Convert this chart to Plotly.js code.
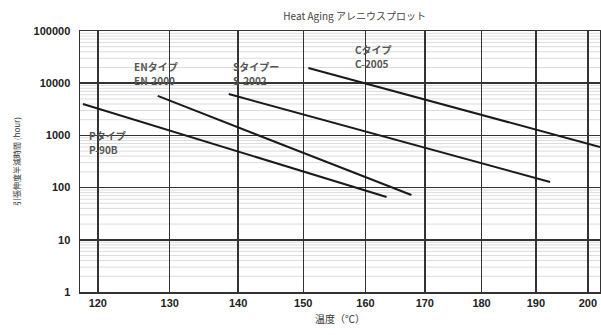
<!DOCTYPE html>
<html>
<head>
<meta charset="utf-8">
<script src="https://cdn.plot.ly/plotly-3.0.1.min.js"></script>
<style>html,body{margin:0;padding:0;background:#fff;}#chart{width:601px;height:335px;}</style>
</head>
<body>
<div id="chart"></div>
<script>
// Temperatures in °C, times in hours
const tickTemps = [120, 130, 140, 150, 160, 170, 180, 190, 200];
const yTicks = [1, 10, 100, 1000, 10000, 100000];

const pTemps = [118, 163.5];
const pHours = [4000, 66];
const enTemps = [128.3, 167.7];
const enHours = [5700, 72];
const sTemps = [138.6, 192.7];
const sHours = [6200, 128];
const cTemps = [150.8, 202.4];
const cHours = [19500, 600];

const seriesNames = ['P-90B', 'EN-2000', 'S-2002', 'C-2005'];
const typeLabels = ['Pタイプ', 'ENタイプ', 'Sタイプー', 'Cタイプ'];

// Arrhenius transform: 1000 / absolute temperature
const inv = t => 1000 / (t + 273.15);
const xMin = 117.6, xMax = 202.4;

const font = '"Liberation Sans", "Noto Sans CJK JP", Arial, sans-serif';
const jfont = '"Noto Sans CJK JP", "Liberation Sans", sans-serif';

const allT = [pTemps, enTemps, sTemps, cTemps];
const allH = [pHours, enHours, sHours, cHours];
const traces = allT.map((T, i) => ({
  x: T.map(inv), y: allH[i], type: 'scatter', mode: 'lines', name: seriesNames[i],
  line: {color: '#1a1a1a', width: 2}, hoverinfo: 'skip'
}));

// minor horizontal grid lines (2..9 per decade)
const minorShapes = [];
for (let d = 0; d < 5; d++) {
  for (let m = 2; m <= 9; m++) {
    minorShapes.push({type: 'line', xref: 'paper', x0: 0, x1: 1, yref: 'y', y0: m * Math.pow(10, d), y1: m * Math.pow(10, d),
      line: {color: '#dcdcdc', width: 1}, layer: 'below'});
  }
}

// label positions in pixels (left, top-line centre)
const labelPx = [[87, 135], [132, 66], [231, 66], [353, 50]];
const toPaperX = px => (px - 80) / 520;
const toPaperY = py => (292 - py) / 261;
const annotations = [];
labelPx.forEach((p, i) => {
  [typeLabels[i], seriesNames[i]].forEach((t, k) => {
    annotations.push({
      text: t, xref: 'paper', yref: 'paper', x: toPaperX(p[0]), y: toPaperY(p[1] + k * 14),
      xanchor: 'left', yanchor: 'middle', align: 'left', showarrow: false,
      font: {family: jfont, size: 10, color: '#555', weight: 'bold'}
    });
  });
});

const layout = {
  width: 601, height: 335,
  margin: {l: 80, r: 1, t: 31, b: 43},
  paper_bgcolor: '#fff', plot_bgcolor: '#fff',
  showlegend: false,
  title: {text: 'Heat Aging アレニウスプロット', x: 0.59, xanchor: 'center', y: 0.95, yanchor: 'middle',
    font: {family: jfont, size: 10, color: '#444'}},
  xaxis: {
    range: [inv(xMin), inv(xMax)],
    tickvals: tickTemps.map(inv), ticktext: tickTemps.map(String),
    showgrid: true, gridcolor: '#333', gridwidth: 1.5,
    showline: true, mirror: true, linecolor: '#333', linewidth: 1.5,
    zeroline: false, ticks: '', ticklen: 0,
    tickfont: {family: font, size: 11, color: '#222', weight: 'bold'},
    title: {text: '温度（℃）', font: {family: jfont, size: 10, color: '#333'}, standoff: 8}
  },
  yaxis: {
    type: 'log', range: [0, 5],
    tickvals: yTicks, ticktext: yTicks.map(String),
    showgrid: true, gridcolor: '#333', gridwidth: 1.5,
    showline: true, mirror: true, linecolor: '#333', linewidth: 1.5,
    zeroline: false, ticks: '', ticklen: 0, ticklabelstandoff: 6,
    tickfont: {family: font, size: 11, color: '#222', weight: 'bold'},
    title: {text: '引張伸度半減時間 (hour)', font: {family: jfont, size: 8, color: '#333'}, standoff: 12}
  },
  shapes: minorShapes,
  annotations: annotations
};

Plotly.newPlot('chart', traces, layout, {staticPlot: true, displayModeBar: false});
</script>
</body>
</html>
